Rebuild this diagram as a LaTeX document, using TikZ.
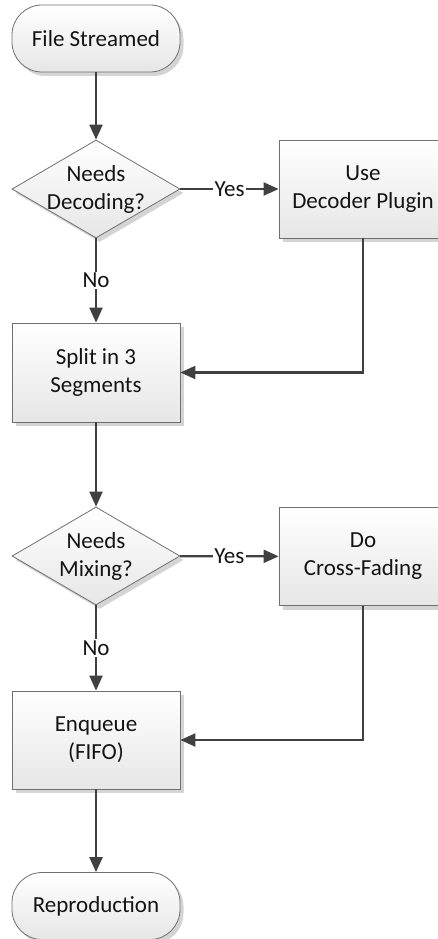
\documentclass[tikz,border=0pt]{standalone}
\usepackage{fontspec}
\setmainfont{Carlito}
\usetikzlibrary{shapes.geometric,shadows,arrows.meta}
\definecolor{edgegray}{HTML}{707070}
\definecolor{linkgray}{HTML}{404040}
\definecolor{fillbottom}{HTML}{E6E6E6}
\definecolor{shadowgray}{HTML}{D4D4D4}
\definecolor{textdark}{HTML}{141414}
\begin{document}
\begin{tikzpicture}[x=1pt,y=-1pt,
  font=\fontsize{23}{28}\selectfont, text=textdark,
  shapebase/.style={draw=edgegray, line width=0.8pt, top color=white,
    bottom color=fillbottom, inner sep=0pt, align=center,
    drop shadow={shadow xshift=3.5pt, shadow yshift=-4pt, fill=shadowgray, opacity=1}},
  termbox/.style={shapebase, rectangle, rounded corners=30pt,
    minimum width=168pt, minimum height=67pt},
  procbox/.style={shapebase, rectangle, minimum width=168pt, minimum height=98pt},
  decision/.style={shapebase, diamond, minimum width=168pt, minimum height=98pt},
  link/.style={draw=linkgray, line width=2.2pt,
    -{Triangle[length=15pt,width=13pt]}},
  lbl/.style={fill=white, inner sep=1.5pt, text=textdark}
]
\useasboundingbox (0,0) rectangle (438,939);

% process steps
\node[termbox] (start) at (96,38.5) {File Streamed};
\node[decision, label={[align=center]center:Needs\\Decoding?}] (dec1) at (96,189) {};
\node[procbox] (plugin) at (363,189) {Use\\Decoder Plugin};
\node[procbox, minimum height=99pt] (split) at (96,372.5) {Split in 3\\Segments};
\node[decision, label={[align=center]center:Needs\\Mixing?}] (dec2) at (96,556) {};
\node[procbox] (fade) at (363,556.5) {Do\\Cross-Fading};
\node[procbox] (enq) at (96,740) {Enqueue\\(FIFO)};
\node[termbox] (repro) at (96,906) {Reproduction};

% flow
\draw[link] (start) -- (dec1);
\draw[link] (dec1) -- node[lbl] {Yes} (plugin);
\draw[link] (dec1) -- node[lbl] {No} (split);
\draw[link] (plugin.south) |- (split.east);
\draw[link] (split) -- (dec2);
\draw[link] (dec2) -- node[lbl] {Yes} (fade);
\draw[link] (dec2) -- node[lbl] {No} (enq);
\draw[link] (fade.south) |- (enq.east);
\draw[link] (enq) -- (repro);
\end{tikzpicture}
\end{document}
